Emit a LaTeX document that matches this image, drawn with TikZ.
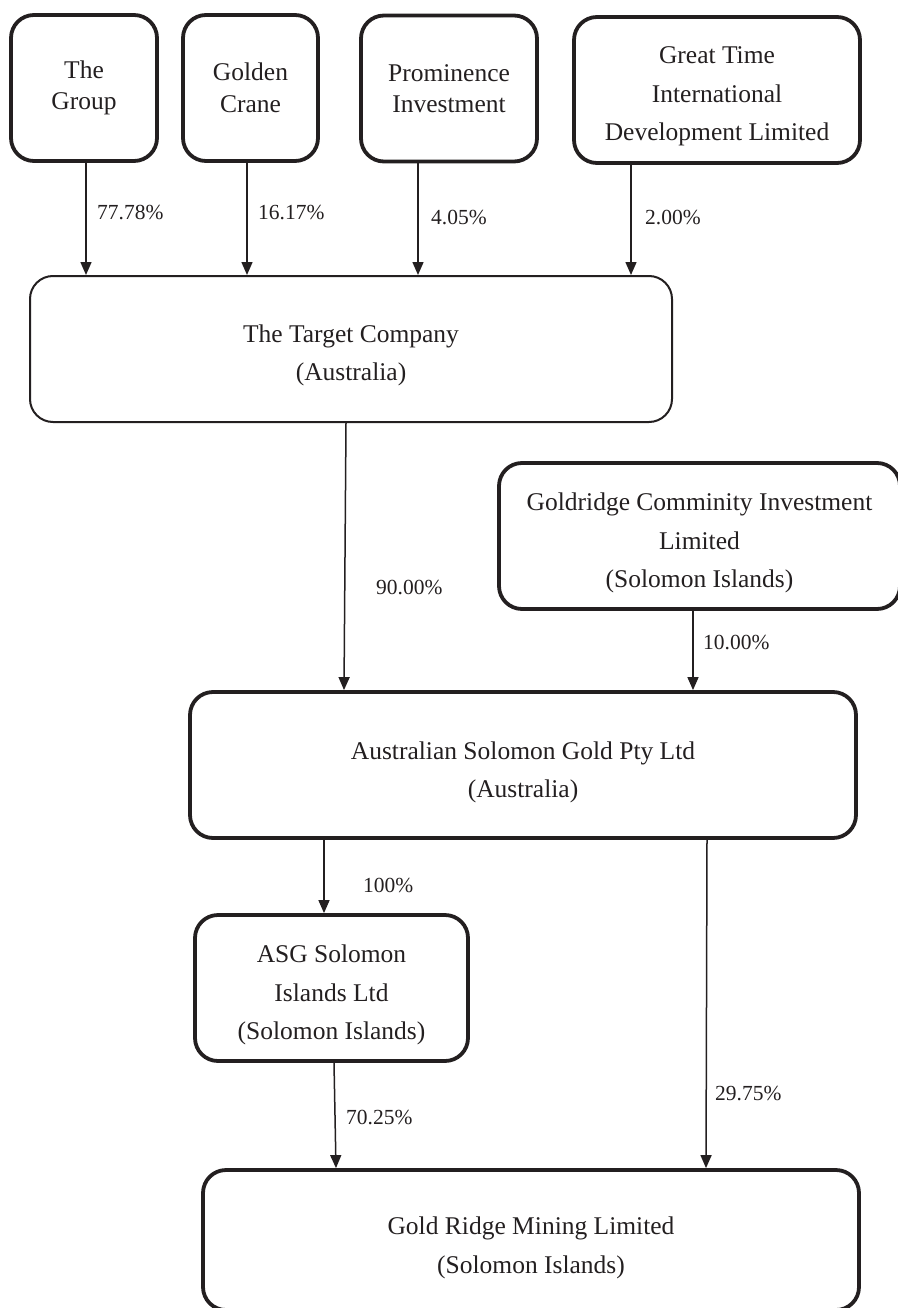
\documentclass[tikz,border=0pt]{standalone}
\usepackage{fontspec}
\setmainfont{Liberation Serif}
\usetikzlibrary{arrows.meta}
\definecolor{ink}{HTML}{231F20}
\begin{document}
\begin{tikzpicture}[x=1pt,y=-1pt,
    holder/.style={draw=ink,line width=3.8pt,rounded corners=23pt,align=center,text=ink,
      minimum height=146pt,inner sep=0pt,font=\fontsize{25.5}{38.5}\selectfont},
    tight/.style={font=\fontsize{25.5}{31.5}\selectfont},
    link/.style={draw=ink,line width=1.5pt,-{Triangle[length=13pt,width=11pt]}},
    pct/.style={anchor=west,inner sep=0pt,text=ink,font=\fontsize{21.5}{24}\selectfont}]
  \useasboundingbox (0,0) rectangle (897,1308);
  % shareholders of the target
  \node[holder,tight,minimum width=146pt] (group) at (84,88) {The\\Group};
  \node[holder,tight,minimum width=135pt] (crane) at (250.5,88) {Golden\\Crane};
  \node[holder,tight,minimum width=176pt] (prom) at (449,88.5) {Prominence\\Investment};
  \node[holder,minimum width=286pt] (great) at (717,90) {\rule{0pt}{30pt}Great Time\\International\\Development Limited};
  \node[holder,line width=2pt,minimum width=642pt] (target) at (351,349) {\rule{0pt}{30pt}The Target Company\\(Australia)};
  % middle level
  \node[holder,minimum width=401pt] (goldridge) at (699.5,536) {\rule{0pt}{32pt}Goldridge Comminity Investment\\Limited\\(Solomon Islands)};
  \node[holder,minimum width=666pt] (asgpty) at (523,765) {\rule{0pt}{32pt}Australian Solomon Gold Pty Ltd\\(Australia)};
  \node[holder,minimum width=273pt] (asgsi) at (331.5,988) {\rule{0pt}{32pt}ASG Solomon\\Islands Ltd\\(Solomon Islands)};
  \node[holder,minimum width=656pt,minimum height=140pt] (grm) at (531,1240) {\rule{0pt}{33pt}Gold Ridge Mining Limited\\(Solomon Islands)};

  \draw[link] (86,0 |- group.south) -- (86,0 |- target.north);
  \draw[link] (247,0 |- crane.south) -- (247,0 |- target.north);
  \draw[link] (418,0 |- prom.south) -- (418,0 |- target.north);
  \draw[link] (631,0 |- great.south) -- (631,0 |- target.north);
  \draw[link] (346,0 |- target.south) -- (344,0 |- asgpty.north);
  \draw[link] (693,0 |- goldridge.south) -- (693,0 |- asgpty.north);
  \draw[link] (324,0 |- asgpty.south) -- (324,0 |- asgsi.north);
  \draw[link] (707,0 |- asgpty.south) -- (706,0 |- grm.north);
  \draw[link] (334,0 |- asgsi.south) -- (336,0 |- grm.north);

  \node[pct] (p1) at (97,213) {77.78\%};
  \node[pct] (p2) at (258,213) {16.17\%};
  \node[pct] (p3) at (431,218) {4.05\%};
  \node[pct] (p4) at (645,218) {2.00\%};
  \node[pct] (p5) at (376,587) {90.00\%};
  \node[pct] (p6) at (703,642) {10.00\%};
  \node[pct] (p7) at (363,885) {100\%};
  \node[pct] (p8) at (715,1093) {29.75\%};
  \node[pct] (p9) at (346,1117) {70.25\%};
\end{tikzpicture}
\end{document}
